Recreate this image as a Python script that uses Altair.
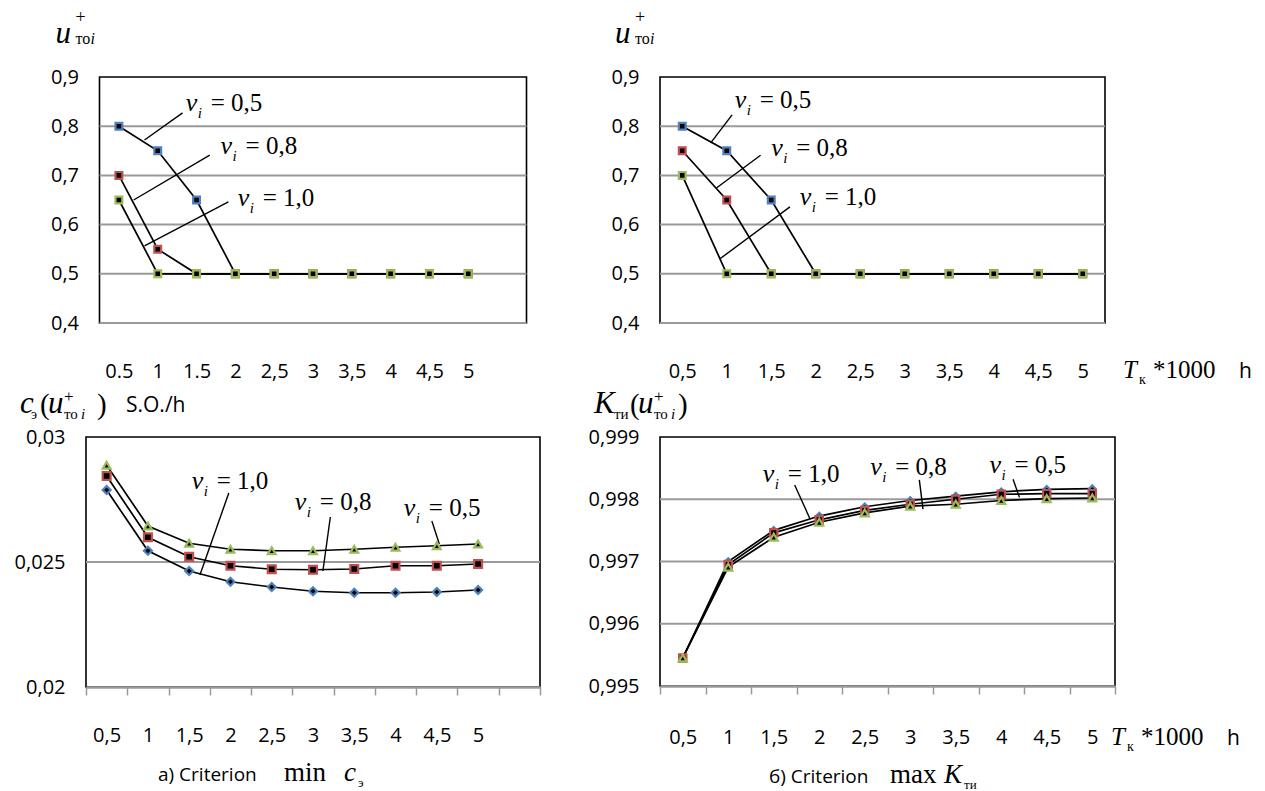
import json
import altair as alt
import pandas as pd

# ------------------------------------------------------------------ data
T_vals = [0.5, 1.0, 1.5, 2.0, 2.5, 3.0, 3.5, 4.0, 4.5, 5.0]
series_names = ["nu=0,5", "nu=0,8", "nu=1,0"]

# top-left: u_toi+ (criterion min c_e)
tl_nu05 = [0.80, 0.75, 0.65, 0.50, 0.50, 0.50, 0.50, 0.50, 0.50, 0.50]
tl_nu08 = [0.70, 0.55, 0.50, 0.50, 0.50, 0.50, 0.50, 0.50, 0.50, 0.50]
tl_nu10 = [0.65, 0.50, 0.50, 0.50, 0.50, 0.50, 0.50, 0.50, 0.50, 0.50]

# top-right: u_toi+ (criterion max K_ti)
tr_nu05 = [0.80, 0.75, 0.65, 0.50, 0.50, 0.50, 0.50, 0.50, 0.50, 0.50]
tr_nu08 = [0.75, 0.65, 0.50, 0.50, 0.50, 0.50, 0.50, 0.50, 0.50, 0.50]
tr_nu10 = [0.70, 0.50, 0.50, 0.50, 0.50, 0.50, 0.50, 0.50, 0.50, 0.50]

# bottom-left: c_e(u_toi+)
bl_nu05 = [0.02887, 0.02644, 0.02575, 0.02551, 0.02545, 0.02545, 0.02551, 0.02559, 0.02565, 0.02572]
bl_nu08 = [0.02844, 0.02599, 0.02521, 0.02485, 0.02471, 0.02469, 0.02472, 0.02485, 0.02485, 0.02492]
bl_nu10 = [0.02788, 0.02545, 0.02464, 0.02421, 0.02400, 0.02383, 0.02377, 0.02377, 0.02380, 0.02388]

# bottom-right: K_ti(u_toi+)
br_nu05 = [0.99545, 0.99700, 0.99750, 0.99773, 0.99788, 0.99798, 0.99805, 0.99812, 0.99816, 0.99817]
br_nu08 = [0.99545, 0.99695, 0.99746, 0.99767, 0.99782, 0.99792, 0.99800, 0.99808, 0.99809, 0.99809]
br_nu10 = [0.99545, 0.99691, 0.99739, 0.99763, 0.99778, 0.99789, 0.99792, 0.99798, 0.99801, 0.99802]

# tick labels
tl_x_labels = ["0.5", "1", "1.5", "2", "2,5", "3", "3,5", "4", "4,5", "5"]
x_labels = ["0,5", "1", "1,5", "2", "2,5", "3", "3,5", "4", "4,5", "5"]
top_y_ticks = [0.4, 0.5, 0.6, 0.7, 0.8, 0.9]
top_grid = [0.4, 0.5, 0.6, 0.7, 0.8]
bl_y_ticks = [0.02, 0.025, 0.03]
bl_grid = [0.025]
br_y_ticks = [0.995, 0.996, 0.997, 0.998, 0.999]
br_grid = [0.996, 0.997, 0.998]

# annotations (label anchor and leader lines, data units)
tl_note_x = [1.36, 1.81, 2.03]
tl_note_y = [0.831, 0.743, 0.638]
tl_note_t = ["= 0,5", "= 0,8", "= 1,0"]
tl_lead = [(1.32, 0.827, 0.83, 0.772), (1.67, 0.741, 0.69, 0.650), (1.91, 0.646, 0.83, 0.557)]

tr_note_x = [1.09, 1.50, 1.82]
tr_note_y = [0.837, 0.739, 0.640]
tr_note_t = ["= 0,5", "= 0,8", "= 1,0"]
tr_lead = [(1.06, 0.823, 0.82, 0.766), (1.38, 0.741, 0.88, 0.674), (1.71, 0.636, 0.92, 0.530)]

bl_note_x = [1.53, 2.78, 4.10]
bl_note_y = [0.02792, 0.02708, 0.02684]
bl_note_t = ["= 1,0", "= 0,8", "= 0,5"]
bl_lead = [(1.98, 0.02776, 1.63, 0.02448), (3.21, 0.02680, 3.12, 0.02464), (4.44, 0.02664, 4.53, 0.02572)]

br_note_x = [1.38, 2.56, 3.87]
br_note_y = [0.99827, 0.99839, 0.99842]
br_note_t = ["= 1,0", "= 0,8", "= 0,5"]
br_lead = [(1.73, 0.99823, 1.90, 0.99768), (3.10, 0.99831, 3.14, 0.99784), (4.13, 0.99832, 4.20, 0.99803)]

# ------------------------------------------------------------------ style
SANS = "Open Sans"
SERIF = "Liberation Serif"
GRAY = "#9a9a9a"
BLUE, RED, GREEN = "#4F81BD", "#C0504D", "#9BBB59"


def txt(text, x, y, size, font=SERIF, style="normal", align="left"):
    return alt.Chart(alt.Data(values=[{"a": 1}])).mark_text(
        text=text, font=font, fontSize=size, fontStyle=style, align=align,
        baseline="alphabetic", color="black"
    ).encode(x=alt.value(x), y=alt.value(y))


def panel(series_vals, W, H, nb, ydom, yticks, yfmt, gridv, xlabels, ticked,
          colors, shapes, sizes, nx, ny, nt, leads, extra, lab_pad):
    xmin, xmax = 0.25, 0.25 + 0.5 * nb
    sx = alt.Scale(domain=[xmin, xmax], nice=False, zero=False)
    sy = alt.Scale(domain=ydom, nice=False, zero=False)
    rows = []
    for name, vals in zip(series_names, series_vals):
        for t, v in zip(T_vals, vals):
            rows.append({"T": t, "v": v, "s": name})
    df = pd.DataFrame(rows)
    band = W / nb
    common = dict(labelFont=SANS, labelFontSize=20, labelColor="black",
                  labelOverlap=False, labelFlush=False, labelBound=False)
    if ticked:
        xvals = [xmin + 0.5 * i for i in range(nb + 1)]
        lab = xlabels + [""] * (nb + 1 - len(xlabels))
        expr = f"{json.dumps(lab)}[round((datum.value-{xmin})*2)]"
        xaxis = alt.Axis(values=xvals, labelExpr=expr, labelOffset=band / 2,
                         ticks=True, tickSize=8, tickColor=GRAY, tickWidth=1.5,
                         domain=True, domainColor=GRAY, domainWidth=2.5,
                         grid=False, labelPadding=lab_pad, **common)
    else:
        expr = f"{json.dumps(xlabels)}[round((datum.value-0.5)*2)]"
        xaxis = alt.Axis(values=T_vals, labelExpr=expr, ticks=False, domain=False,
                         grid=False, labelPadding=lab_pad, **common)
    yaxis = alt.Axis(values=yticks,
                     labelExpr=f"replace(format(datum.value, '{yfmt}'), '.', ',')",
                     ticks=False, domain=False, grid=False, labelPadding=21, **common)

    def X(f):
        return alt.X(f, scale=sx, axis=xaxis, title=None)

    def Y(f):
        return alt.Y(f, scale=sy, axis=yaxis, title=None)

    grid = alt.Chart(pd.DataFrame({"g": gridv})).mark_rule(
        color=GRAY, strokeWidth=2).encode(y=Y("g:Q"))
    ldf = pd.DataFrame(leads, columns=["x1", "y1", "x2", "y2"])
    leaders = alt.Chart(ldf).mark_rule(color="black", strokeWidth=1.4).encode(
        x=X("x1:Q"), y=Y("y1:Q"), x2="x2:Q", y2="y2:Q")
    lines = alt.Chart(df).mark_line(color="black", strokeWidth=1.7).encode(
        x=X("T:Q"), y=Y("v:Q"), detail="s:N")
    pts = alt.Chart(df).mark_point(fill="black", fillOpacity=1, opacity=1, strokeWidth=2.2).encode(
        x=X("T:Q"), y=Y("v:Q"),
        stroke=alt.Stroke("s:N", scale=alt.Scale(domain=series_names, range=colors), legend=None),
        shape=alt.Shape("s:N", scale=alt.Scale(domain=series_names, range=shapes), legend=None),
        size=alt.Size("s:N", scale=alt.Scale(domain=series_names, range=sizes), legend=None),
    )
    ndf = pd.DataFrame({"x": nx, "y": ny, "t": nt})
    nbase = alt.Chart(ndf).encode(x=X("x:Q"), y=Y("y:Q"))
    n1 = nbase.mark_text(text="ν", font=SERIF, fontSize=26, fontStyle="italic",
                         align="left", baseline="alphabetic", color="black")
    n2 = nbase.mark_text(text="i", font=SERIF, fontSize=15, fontStyle="italic",
                         align="left", baseline="alphabetic", color="black", dx=12, dy=7)
    n3 = nbase.mark_text(font=SERIF, fontSize=25, align="left",
                         baseline="alphabetic", color="black", dx=25).encode(text="t:N")
    return alt.layer(grid, leaders, lines, pts, n1, n2, n3, *extra).properties(width=W, height=H)


def u_title(dx):
    return [
        txt("u", dx, -34, 31, style="italic"),
        txt("+", dx + 20, -54, 18),
        txt("то", dx + 20, -33, 16),
        txt("i", dx + 35, -33, 16, style="italic"),
    ]


def tk_parts(x0, yb):
    return [
        txt("T", x0, yb, 25, style="italic"),
        txt("к", x0 + 16, yb + 6, 14),
        txt("*1000", x0 + 30, yb, 25),
        txt("h", x0 + 116, yb, 21, font=SANS),
    ]


W_TL, H_TL = 427, 246
W_TR, H_TR = 445, 246
W_BL, H_BL = 454, 250
W_BR, H_BR = 455, 249

tl = panel([tl_nu05, tl_nu08, tl_nu10], W_TL, H_TL, 11, [0.4, 0.9], top_y_ticks, ".1f",
           top_grid, tl_x_labels, False, [BLUE, RED, GREEN], ["square"] * 3, [46, 46, 46],
           tl_note_x, tl_note_y, tl_note_t, tl_lead, u_title(-44), 38)

tr = panel([tr_nu05, tr_nu08, tr_nu10], W_TR, H_TR, 10, [0.4, 0.9], top_y_ticks, ".1f",
           top_grid, x_labels, False, [BLUE, RED, GREEN], ["square"] * 3, [46, 46, 46],
           tr_note_x, tr_note_y, tr_note_t, tr_lead,
           u_title(-45) + tk_parts(463, 301), 38)

bl_extra = [
    txt("c", -66, -24, 31, style="italic"),
    txt("э", -55, -18, 14),
    txt("(", -46, -23, 29),
    txt("u", -38, -24, 31, style="italic"),
    txt("+", -22, -35, 17),
    txt("то", -22, -18, 15),
    txt("i", -5, -18, 15, style="italic"),
    txt(")", 11, -23, 29),
    txt("S.O./h", 40, -25, 21, font=SANS),
    txt("а) Criterion", 72, 344, 19, font=SANS),
    txt("min", 198, 344, 27),
    txt("c", 258, 344, 27, style="italic"),
    txt("э", 272, 350, 13),
]
bl = panel([bl_nu05, bl_nu08, bl_nu10], W_BL, H_BL, 11, [0.02, 0.03], bl_y_ticks, ".3~f",
           bl_grid, x_labels, True, [GREEN, RED, BLUE], ["triangle-up", "square", "diamond"],
           [60, 64, 42],
           bl_note_x, bl_note_y, bl_note_t, bl_lead, bl_extra, 30)

br_extra = [
    txt("K", -66, -24, 31, style="italic"),
    txt("ти", -46, -18, 15),
    txt("(", -30, -23, 29),
    txt("u", -22, -24, 31, style="italic"),
    txt("+", -6, -35, 17),
    txt("то", -6, -18, 15),
    txt("i", 11, -18, 15, style="italic"),
    txt(")", 18, -23, 29),
    txt("б) Criterion", 109, 346, 19, font=SANS),
    txt("max", 230, 346, 27),
    txt("K", 284, 346, 27, style="italic"),
    txt("ти", 304, 352, 13),
] + tk_parts(451, 308)
br = panel([br_nu05, br_nu08, br_nu10], W_BR, H_BR, 10, [0.995, 0.999], br_y_ticks, ".3f",
           br_grid, x_labels, True, [BLUE, RED, GREEN], ["diamond", "square", "triangle-up"],
           [42, 64, 60],
           br_note_x, br_note_y, br_note_t, br_lead, br_extra, 33)

chart = alt.concat(tl, tr, bl, br, columns=2, spacing=alt.RowColnumber(row=114, column=120),
                   bounds="flush", center=True).resolve_scale(
    stroke="independent", shape="independent", size="independent"
).configure(
    padding={"left": 5, "top": 0, "right": 0, "bottom": 0},
    background="white",
).configure_view(stroke="black", strokeWidth=1.6)

chart.save("out.html", embed_options={"renderer": "svg", "actions": False})
